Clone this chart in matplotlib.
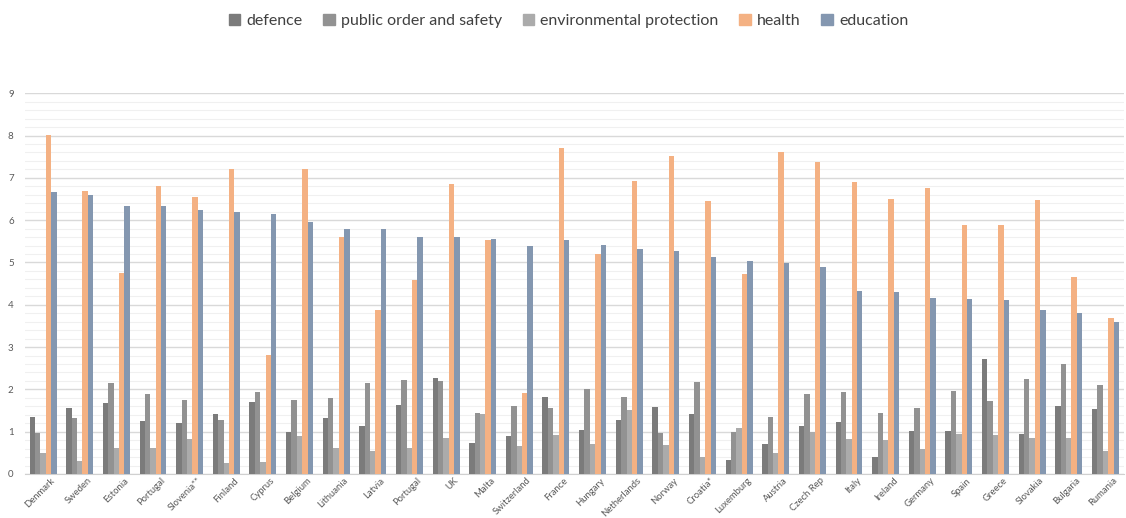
import numpy as np
import matplotlib
matplotlib.use("Agg")
import matplotlib.pyplot as plt
from matplotlib.patches import Patch
from matplotlib.ticker import MultipleLocator

# ---------------------- data (% of GDP) ----------------------
countries = ["Denmark", "Sweden", "Estonia", "Portugal", "Slovenia**", "Finland", "Cyprus",
             "Belgium", "Lithuania", "Latvia", "Portugal", "UK", "Malta", "Switzerland",
             "France", "Hungary", "Netherlands", "Norway", "Croatia*", "Luxemburg",
             "Austria", "Czech Rep", "Italy", "Ireland", "Germany", "Spain", "Greece",
             "Slovakia", "Bulgaria", "Rumania"]

defence = [1.34, 1.56, 1.67, 1.26, 1.20, 1.41, 1.71, 1.00, 1.32, 1.14, 1.62, 2.28, 0.73, 0.90,
           1.81, 1.03, 1.28, 1.58, 1.42, 0.33, 0.70, 1.14, 1.24, 0.40, 1.02, 1.01, 2.72,
           0.94, 1.61, 1.54]
public_order = [0.97, 1.32, 2.15, 1.89, 1.76, 1.28, 1.93, 1.76, 1.80, 2.15, 2.22, 2.19, 1.43, 1.60,
                1.56, 2.00, 1.83, 0.98, 2.17, 1.00, 1.35, 1.89, 1.93, 1.44, 1.57, 1.95, 1.72,
                2.24, 2.60, 2.11]
environment = [0.50, 0.31, 0.62, 0.61, 0.82, 0.27, 0.28, 0.89, 0.61, 0.55, 0.61, 0.84, 1.41, 0.65,
               0.91, 0.72, 1.52, 0.69, 0.39, 1.08, 0.49, 1.00, 0.83, 0.80, 0.59, 0.94, 0.91,
               0.84, 0.84, 0.54]
health = [8.02, 6.70, 4.75, 6.81, 6.54, 7.20, 2.81, 7.21, 5.60, 3.87, 4.59, 6.85, 5.53, 1.92,
          7.71, 5.20, 6.93, 7.52, 6.46, 4.73, 7.60, 7.37, 6.90, 6.51, 6.76, 5.89, 5.88,
          6.47, 4.66, 3.68]
education = [6.66, 6.60, 6.33, 6.33, 6.23, 6.20, 6.14, 5.95, 5.80, 5.80, 5.61, 5.59, 5.56, 5.40,
             5.54, 5.41, 5.31, 5.28, 5.14, 5.03, 4.98, 4.90, 4.33, 4.30, 4.15, 4.13, 4.11,
             3.87, 3.80, 3.59]

series = [defence, public_order, environment, health, education]
labels = ["defence", "public order and safety", "environmental protection", "health", "education"]
colors = ["#7b7b7b", "#929292", "#ababab", "#f4b183", "#8497b0"]

# ---------------------- plot ----------------------
plt.rcParams['font.family'] = ['Lato', 'DejaVu Sans']

fig = plt.figure(figsize=(11.26, 5.18), dpi=100)
ax = fig.add_axes([0.022, 0.085, 0.976, 0.735])

x = np.arange(len(countries))
bar_w = 0.147
for i, (vals, col) in enumerate(zip(series, colors)):
    ax.bar(x + (i - 2) * bar_w, vals, width=bar_w, color=col, zorder=3)

ax.set_xlim(-0.5, len(countries) - 0.5)
ax.set_ylim(0, 9)
ax.yaxis.set_major_locator(MultipleLocator(1))
ax.yaxis.set_minor_locator(MultipleLocator(0.2))
ax.grid(axis="y", which="major", color="#d9d9d9", lw=1.0, zorder=0)
ax.grid(axis="y", which="minor", color="#f0f0f0", lw=0.8, zorder=0)
for s in ["top", "right", "left"]:
    ax.spines[s].set_visible(False)
ax.spines["bottom"].set_color("#d0d0d0")
ax.tick_params(axis="both", which="both", length=0, colors="#595959", labelsize=7)
ax.tick_params(axis="y", pad=8)
ax.tick_params(axis="x", pad=1.5, labelsize=6.8)

# labels end slightly right of the group centre, as in the original
ax.set_xticks(x + 0.2)
ax.set_xticklabels(countries, rotation=45, ha="right", rotation_mode="anchor")

handles = [Patch(color=c) for c in colors]
fig.legend(handles, labels, loc="center", bbox_to_anchor=(0.505, 0.96), ncol=5,
           frameon=False, fontsize=11.5, handlelength=0.7, handleheight=0.7,
           handletextpad=0.4, columnspacing=1.3, labelcolor="#404040")

plt.savefig("out.png", dpi=100)
